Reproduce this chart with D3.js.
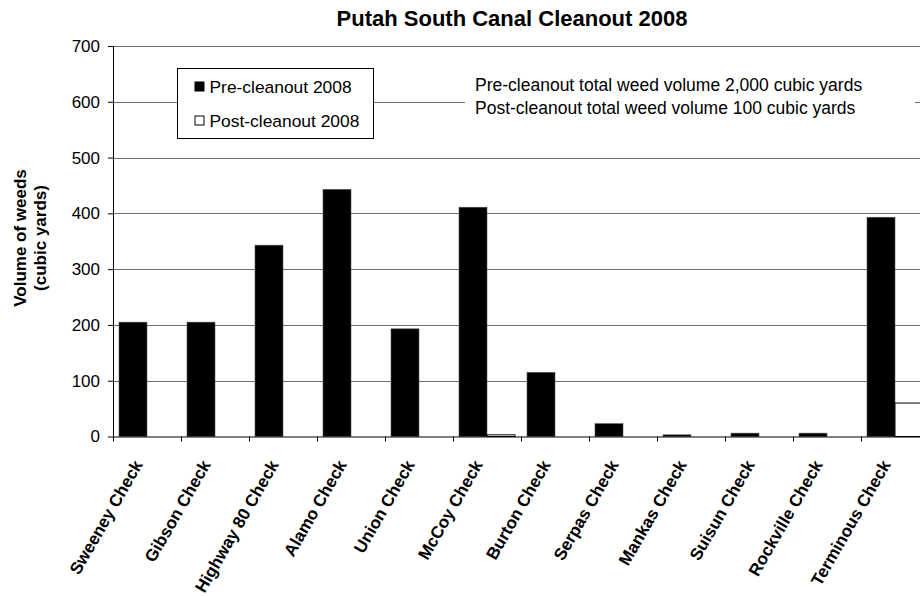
<!DOCTYPE html>
<html>
<head>
<meta charset="utf-8">
<script src="https://cdn.jsdelivr.net/npm/d3@7"></script>
<style>
	body { margin: 0; background: #fff; }
	svg { display: block; font-family: "Liberation Sans", Arial, sans-serif; }
</style>
</head>
<body>
<div class="c-svg"></div>
<script>
//DATA
//-------------------------------------------------------------------------
const checks = ["Sweeney Check", "Gibson Check", "Highway 80 Check", "Alamo Check", "Union Check",
	"McCoy Check", "Burton Check", "Serpas Check", "Mankas Check", "Suisun Check",
	"Rockville Check", "Terminous Check"];
const preValues = [205, 205, 343, 443, 193, 411, 115, 23, 3, 6, 6, 393];
const postValues = [0, 0, 0, 0, 0, 3, 0, 0, 0, 0, 0, 60];
const seriesNames = ["Pre-cleanout 2008", "Post-cleanout 2008"];
const yTicks = [0, 100, 200, 300, 400, 500, 600, 700];
const noteLines = ["Pre-cleanout total weed volume 2,000 cubic yards",
	"Post-cleanout total weed volume 100 cubic yards"];

//opts for svg
const opts = {
	width: 920,
	height: 596,
	margin: { top: 46, left: 113 }
};
const inner = { width: 816, height: 390.5 };

const svg = d3.select(".c-svg")
	.append("svg")
	.attr("width", opts.width)
	.attr("height", opts.height);

const g = svg.append("g")
	.attr("transform", `translate(${opts.margin.left} ${opts.margin.top})`);

//scales
const x = d3.scaleBand()
	.domain(checks)
	.range([0, inner.width])
	.paddingInner(0)
	.paddingOuter(0);

const xs = d3.scaleBand()
	.domain([0, 1])
	.range([6, x.bandwidth() - 6]);

const y = d3.scaleLinear()
	.domain([0, 700])
	.range([inner.height, 0]);

//GRID
//-------------------------------------------------------------------------
g.append("g")
	.selectAll("line")
	.data(yTicks.filter(d => d > 0))
	.join("line")
	.attr("x1", 0)
	.attr("x2", inner.width)
	.attr("y1", d => Math.round(y(d)) + 0.5)
	.attr("y2", d => Math.round(y(d)) + 0.5)
	.attr("stroke", "#6e6e6e");

//BARS
//-------------------------------------------------------------------------
const bars = g.append("g");
bars.selectAll(".pre")
	.data(preValues)
	.join("rect")
	.attr("class", "pre")
	.attr("x", (d, i) => x(checks[i]) + xs(0))
	.attr("width", xs.bandwidth())
	.attr("y", d => y(d))
	.attr("height", d => y(0) - y(d))
	.attr("fill", "#000")
	.attr("stroke", "#555")
	.attr("stroke-width", 0.6);

bars.selectAll(".post")
	.data(postValues)
	.join("rect")
	.attr("class", "post")
	.attr("x", (d, i) => x(checks[i]) + xs(1))
	.attr("width", xs.bandwidth())
	.attr("y", d => y(d))
	.attr("height", d => y(0) - y(d))
	.attr("fill", "#fff")
	.attr("stroke", "#000")
	.attr("stroke-width", 1);

//AXIS
//-------------------------------------------------------------------------
const yAxis = d3.axisLeft(y)
	.tickValues(yTicks)
	.tickSize(5)
	.tickPadding(8);

g.append("g")
	.call(yAxis)
	.call(a => a.select(".domain").remove())
	.call(a => a.selectAll("text").attr("font-size", "17px").attr("fill", "#000").attr("font-family", null));

g.append("line")
	.attr("x1", 0.5).attr("x2", 0.5)
	.attr("y1", 0).attr("y2", inner.height)
	.attr("stroke", "#000");

const xAxis = d3.axisBottom(x).tickSize(0).tickFormat("");
const xg = g.append("g")
	.attr("transform", `translate(0 ${inner.height})`)
	.call(xAxis);
xg.select(".domain").attr("stroke", "#000");

//tick marks on band boundaries
xg.selectAll(".bound")
	.data(checks)
	.join("line")
	.attr("x1", d => Math.round(x(d)) + 0.5)
	.attr("x2", d => Math.round(x(d)) + 0.5)
	.attr("y1", 0)
	.attr("y2", 5)
	.attr("stroke", "#000");

//rotated category labels
g.append("g")
	.selectAll("text")
	.data(checks)
	.join("text")
	.attr("transform", d => `translate(${x(d) + x.bandwidth() / 2 - 9} ${inner.height + 25}) rotate(-60)`)
	.attr("text-anchor", "end")
	.attr("dy", "0.35em")
	.attr("font-size", "17px")
	.attr("font-weight", "bold")
	.text(d => d);

//TITLES
//-------------------------------------------------------------------------
svg.append("text")
	.attr("x", 512)
	.attr("y", 26)
	.attr("text-anchor", "middle")
	.attr("font-size", "22px")
	.attr("font-weight", "bold")
	.text("Putah South Canal Cleanout 2008");

const ylab = svg.append("text")
	.attr("transform", "translate(26 238) rotate(-90)")
	.attr("text-anchor", "middle")
	.attr("font-size", "17px")
	.attr("font-weight", "bold");
ylab.append("tspan").attr("x", 0).attr("dy", 0).text("Volume of weeds");
ylab.append("tspan").attr("x", 0).attr("dy", 20).text("(cubic yards)");

//LEGEND
//-------------------------------------------------------------------------
const legend = svg.append("g").attr("transform", "translate(177.5 68.5)");
legend.append("rect")
	.attr("width", 196)
	.attr("height", 70)
	.attr("fill", "#fff")
	.attr("stroke", "#000");

const items = legend.selectAll(".item")
	.data(seriesNames)
	.join("g")
	.attr("transform", (d, i) => `translate(17 ${18 + i * 34})`);
items.append("rect")
	.attr("x", 0.5)
	.attr("y", -4.5)
	.attr("width", 9)
	.attr("height", 9)
	.attr("fill", (d, i) => i === 0 ? "#000" : "#fff")
	.attr("stroke", "#000");
items.append("text")
	.attr("x", 15)
	.attr("dy", "0.35em")
	.attr("font-size", "17.4px")
	.text(d => d);

//NOTE
//-------------------------------------------------------------------------
const note = svg.append("g").attr("transform", "translate(465 70)");
note.append("rect")
	.attr("width", 450)
	.attr("height", 50)
	.attr("fill", "#fff");
note.selectAll("text")
	.data(noteLines)
	.join("text")
	.attr("x", 10)
	.attr("y", (d, i) => 21 + i * 23)
	.attr("font-size", "17.5px")
	.text(d => d);
</script>
</body>
</html>
